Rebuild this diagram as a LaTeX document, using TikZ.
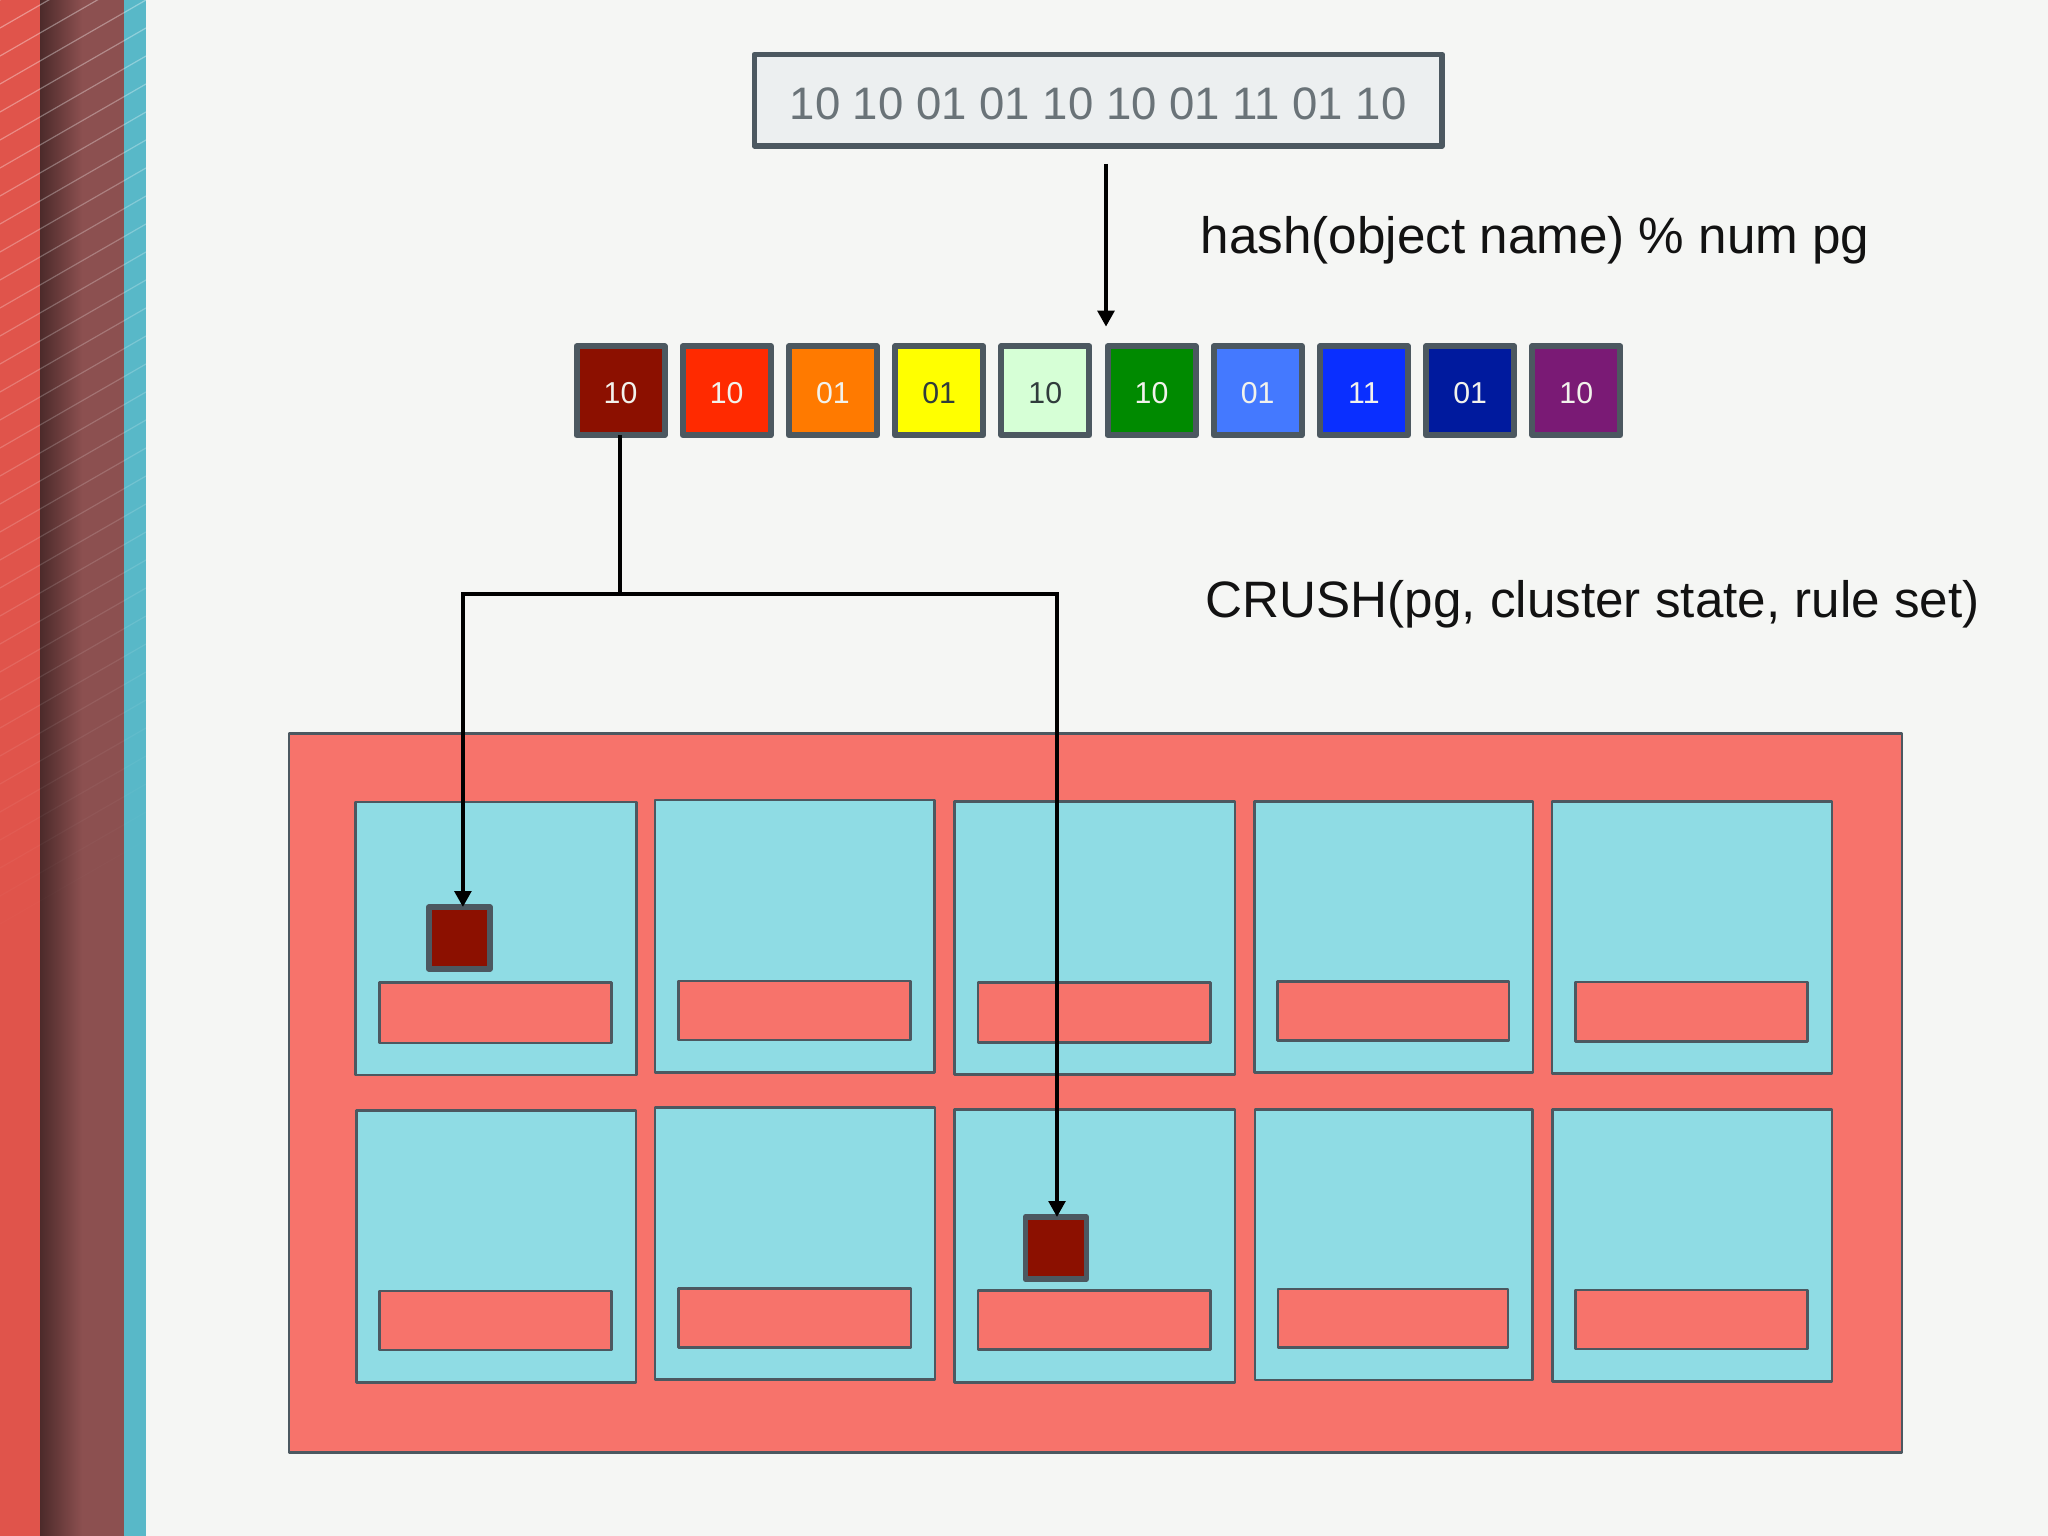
\documentclass[tikz,border=0pt]{standalone}
\usepackage{fontspec}
\setmainfont{Liberation Sans}
\usepackage{xcolor}
\usetikzlibrary{calc,arrows.meta}
\definecolor{slidebg}{RGB}{245, 246, 244}
\definecolor{stripered}{RGB}{224, 84, 75}
\definecolor{stripedark}{RGB}{140, 80, 80}
\definecolor{stripeshade}{RGB}{76, 42, 42}
\definecolor{stripeteal}{RGB}{88, 184, 200}
\definecolor{edgegray}{RGB}{76, 88, 96}
\definecolor{wordfill}{RGB}{236, 239, 240}
\definecolor{wordtext}{RGB}{106, 115, 120}
\definecolor{clusterred}{RGB}{247, 115, 107}
\definecolor{hostcyan}{RGB}{143, 220, 228}
\definecolor{pgmaroon}{RGB}{140, 16, 0}
\definecolor{pgred}{RGB}{255, 42, 0}
\definecolor{pgorange}{RGB}{255, 122, 0}
\definecolor{pgyellow}{RGB}{255, 255, 0}
\definecolor{pgmint}{RGB}{214, 255, 214}
\definecolor{pggreen}{RGB}{0, 138, 0}
\definecolor{pgsky}{RGB}{68, 121, 255}
\definecolor{pgblue}{RGB}{10, 47, 255}
\definecolor{pgnavy}{RGB}{0, 26, 158}
\definecolor{pgpurple}{RGB}{122, 26, 117}
\definecolor{digitlight}{RGB}{242, 242, 236}
\definecolor{digitdark}{RGB}{48, 60, 60}
\tikzset{
  boxbase/.style={draw=edgegray, inner sep=0pt, outer sep=0pt, line join=round},
  pgbox/.style={boxbase, line width=6*0.01cm, minimum width=88*0.01cm, minimum height=89*0.01cm,
    text height=7pt, text depth=0pt, font=\fontsize{8.6pt}{10pt}\selectfont},
  copybox/.style={boxbase, fill=pgmaroon, line width=5.5*0.01cm, minimum width=61.2*0.01cm, minimum height=62*0.01cm},
  hostbox/.style={boxbase, fill=hostcyan, line width=2.7*0.01cm},
  flow/.style={black, line width=4*0.01cm, line join=miter},
  flowarrow/.style={flow, -{Triangle[width=16.5*0.01cm, length=16*0.01cm]}},
  formula/.style={anchor=base west, inner sep=0pt, text=black!93, font=\fontsize{14.56pt}{17pt}\selectfont},
}
\begin{document}
\begin{tikzpicture}[x=0.01cm, y=-0.01cm]
\useasboundingbox (0,0) rectangle (2048,1536);
\fill[slidebg] (0,0) rectangle (2048,1536);

% Left stripes
\fill[stripered] (0,0) rectangle (40,1536);
\shade[left color=stripeshade, right color=stripedark] (40,0) rectangle (82,1536);
\fill[stripedark] (82,0) rectangle (124,1536);
\fill[stripeteal] (124,0) rectangle (146,1536);
\begin{scope}
\clip (0,0) rectangle (146,1536);
\foreach \s in {0,28,...,952} {
  \pgfmathsetmacro{\op}{0.38*(1-\s/952)}
  \draw[white, line width=1.2*0.01cm, opacity=\op] (0,\s) -- (146,\s-84);
}
\end{scope}

% Object name box
\node[boxbase, fill=wordfill, line width=5.5*0.01cm, minimum width=687.8*0.01cm, minimum height=91.5*0.01cm,
  text=wordtext, text height=10.7pt, text depth=0pt, font=\fontsize{12.95pt}{15pt}\selectfont] (objbox) at (1098.2,100.2)
  {10 10 01 01 10 10 01 11 01 10};

% Placement groups
\foreach \i/\col/\dig/\lab in {1/pgmaroon/digitlight/10, 2/pgred/digitlight/10, 3/pgorange/digitlight/01,
    4/pgyellow/digitdark/01, 5/pgmint/digitdark/10, 6/pggreen/digitlight/10, 7/pgsky/digitlight/01,
    8/pgblue/digitlight/11, 9/pgnavy/digitlight/01, 10/pgpurple/digitlight/10} {
  \node[pgbox, fill=\col, text=\dig] (pg\i) at ({620.5+106.2*(\i-1)},390.8) {\lab};
}

% Formulas
\node[formula] (hashlabel) at (1200,253) {hash(object name) \% num pg};
\node[formula] (crushlabel) at (1205,617) {CRUSH(pg, cluster state, rule set)};

% Cluster
\node[boxbase, fill=clusterred, line width=2.6*0.01cm, minimum width=1613*0.01cm, minimum height=719*0.01cm] (cluster) at (1095.3,1092.8) {};

% Hosts
\foreach \i/\xa/\ya/\xb/\yb in {1/355.7/802/636.7/1075, 2/655/800/934.7/1072.3, 3/954.7/801.3/1235/1074.7,
    4/1254.7/801.3/1533/1072.3, 5/1552/801.3/1832/1073.7, 6/356.3/1110.3/636/1382.3, 7/655/1107.3/935/1379.7,
    8/954.4/1109.3/1235/1382.7, 9/1255/1109.3/1532.5/1380, 10/1552.5/1109.3/1832/1381.3} {
  \node[hostbox, minimum width={(\xb-\xa)*0.01cm}, minimum height={(\yb-\ya)*0.01cm}] (host\i) at ({(\xa+\xb)/2},{(\ya+\yb)/2}) {};
}

% Disks
\foreach \i/\xa/\ya/\xb/\yb in {1/379.5/982.7/611.5/1043, 2/678.8/981/910.6/1040, 3/978/982.7/1210.6/1042.7,
    4/1277.7/981.3/1508.9/1040.3, 5/1575.6/982/1807.6/1041.7, 6/379.6/1291/611.8/1350, 7/678.8/1288.7/911/1347.3,
    8/978/1290.7/1210.6/1349.7, 9/1278/1289/1508/1347.3, 10/1575.6/1290/1807.5/1349} {
  \node[hostbox, fill=clusterred, minimum width={(\xb-\xa)*0.01cm}, minimum height={(\yb-\ya)*0.01cm}] (disk\i) at ({(\xa+\xb)/2},{(\ya+\yb)/2}) {};
}

% Stored copies
\node[copybox] (copyA) at (459.35,938) {};
\node[copybox] (copyB) at (1055.85,1248) {};

% Connectors
\coordinate (hashend) at (1106,326.7);
\coordinate (busmid) at (620,593.7);
\coordinate (busleft) at (462.9,593.7);
\coordinate (busright) at (1057,593.7);
\draw[flowarrow, shorten <=18*0.01cm] (objbox.south -| hashend) -- (hashend);
\draw[flow] (pg1.south -| busmid) -- (busmid);
\draw[flowarrow] (busmid) -- (busleft) -- (busleft |- copyA.north);
\draw[flowarrow] (busmid) -- (busright) -- (busright |- copyB.north);
\end{tikzpicture}
\end{document}
